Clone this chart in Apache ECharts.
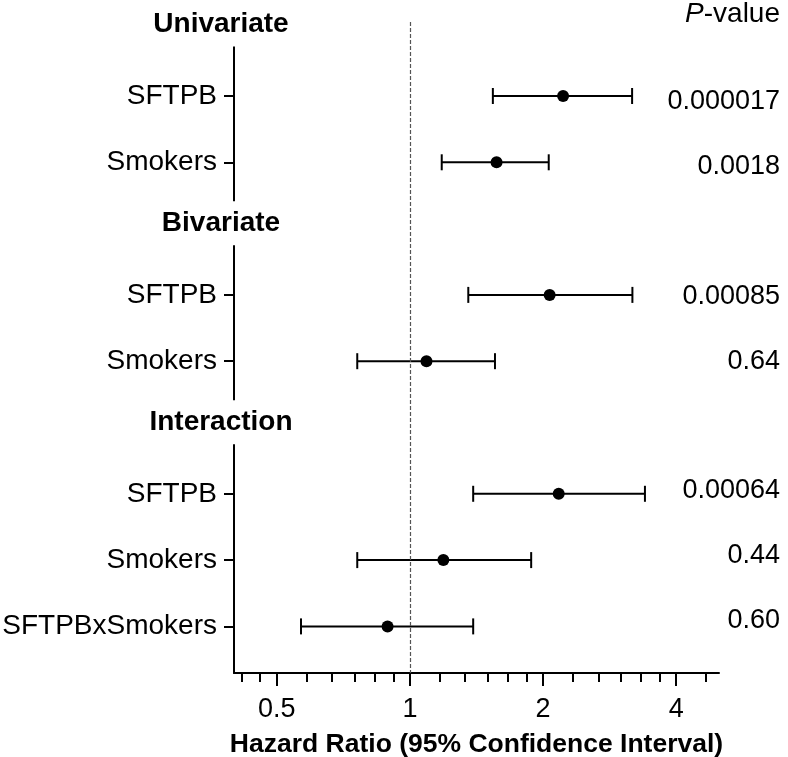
<!DOCTYPE html>
<html>
<head>
<meta charset="utf-8">
<script src="https://cdn.jsdelivr.net/npm/echarts@6/dist/echarts.min.js"></script>
<style>html,body{margin:0;padding:0;background:#fff}#chart{width:788px;height:757px}</style>
</head>
<body>
<div id="chart"></div>
<script>
// ---- data ----
const categories = ['Univariate','SFTPB','Smokers','Bivariate','SFTPB','Smokers','Interaction','SFTPB','Smokers','SFTPBxSmokers'];
const hazardRatio = [null, 2.22, 1.57, null, 2.07, 1.09, null, 2.17, 1.19, 0.89];
const ciLower     = [null, 1.54, 1.18, null, 1.355, 0.76, null, 1.39, 0.76, 0.567];
const ciUpper     = [null, 3.18, 2.06, null, 3.185, 1.557, null, 3.40, 1.88, 1.39];
const pValues     = ['', '0.000017', '0.0018', '', '0.00085', '0.64', '', '0.00064', '0.44', '0.60'];
const xTickValues = [0.5, 1, 2, 4];
const xMinorTickValues = [0.417, 0.458, 0.583, 0.667, 0.75, 0.833, 0.917, 1.167, 1.333, 1.5, 1.667, 1.833, 2.333, 2.667, 3, 3.333, 3.667, 4.667];
const referenceHR = 1;

// ---- derived ----
const itemRows = [], headerRows = [];
hazardRatio.forEach((v, i) => (v == null ? headerRows : itemRows).push(i));
const pointData = itemRows.map(i => [hazardRatio[i], i]);
const ciData = itemRows.map(i => [i, ciLower[i], ciUpper[i]]);

const FONT = "'Liberation Sans', Arial, Helvetica, sans-serif";
const chart = echarts.init(document.getElementById('chart'), null, {renderer: 'canvas'});

chart.setOption({
  animation: false,
  backgroundColor: '#fff',
  textStyle: {fontFamily: FONT, color: '#000'},
  title: {
    text: '{i|P}-value',
    right: 8, top: 0, padding: 0,
    textStyle: {
      fontFamily: FONT, fontSize: 28, fontWeight: 'normal', color: '#000',
      rich: {i: {fontStyle: 'italic', fontFamily: FONT, fontSize: 28, color: '#000'}}
    }
  },
  grid: {left: 234, right: 69, top: 22, bottom: 84, containLabel: false, outerBoundsMode: 'none'},
  xAxis: [{
    type: 'log', logBase: 2, min: 0.4, max: 5, position: 'bottom',
    axisLine: {show: true, onZero: false, lineStyle: {color: '#000', width: 2}},
    axisTick: {show: true, customValues: xTickValues, length: 13, lineStyle: {color: '#000', width: 2}},
    axisLabel: {customValues: xTickValues, fontFamily: FONT, fontSize: 27, color: '#000', margin: 23,
      formatter: v => String(v)},
    splitLine: {show: false},
    name: 'Hazard Ratio (95% Confidence Interval)',
    nameLocation: 'middle', nameGap: 58,
    nameTextStyle: {fontFamily: FONT, fontSize: 26.5, fontWeight: 'bold', color: '#000'}
  }, {
    type: 'log', logBase: 2, min: 0.4, max: 5, position: 'bottom', offset: 0,
    axisLine: {show: false, onZero: false},
    axisTick: {show: true, customValues: xMinorTickValues, length: 9, lineStyle: {color: '#000', width: 2}},
    axisLabel: {show: false},
    splitLine: {show: false}
  }],
  yAxis: [{
    type: 'value', inverse: true, min: -0.116, max: 9.703, position: 'left',
    axisLine: {show: true, onZero: false, lineStyle: {color: '#000', width: 2}},
    axisTick: {show: true, customValues: itemRows, length: 10, lineStyle: {color: '#000', width: 2}},
    axisLabel: {customValues: itemRows, formatter: v => categories[Math.round(v)],
      fontFamily: FONT, fontSize: 28, color: '#000', margin: 17},
    splitLine: {show: false}
  }, {
    type: 'value', inverse: true, min: -0.116, max: 9.703, position: 'left', offset: 0, z: 5,
    axisLine: {show: false, onZero: false}, axisTick: {show: false}, splitLine: {show: false},
    axisLabel: {customValues: headerRows.map(i => i - 0.08), formatter: v => categories[Math.round(v)],
      align: 'center', margin: 13, fontFamily: FONT, fontSize: 28, fontWeight: 'bold', color: '#000',
      backgroundColor: '#fff', padding: [8, 4, 8, 4]}
  }, {
    type: 'value', inverse: true, min: -0.23, max: 9.805, position: 'right', offset: 0,
    axisLine: {show: false, onZero: false}, axisTick: {show: false}, splitLine: {show: false},
    axisLabel: {customValues: itemRows, formatter: v => pValues[Math.round(v)],
      align: 'right', margin: 61, fontFamily: FONT, fontSize: 27, color: '#000'}
  }],
  series: [{
    type: 'custom',
    xAxisIndex: 0, yAxisIndex: 0,
    data: ciData,
    encode: {x: [1, 2], y: 0},
    renderItem: function (params, api) {
      const row = api.value(0);
      const p1 = api.coord([api.value(1), row]);
      const p2 = api.coord([api.value(2), row]);
      const cap = 8;
      const style = {stroke: '#000', lineWidth: 2};
      return {
        type: 'group',
        children: [
          {type: 'line', shape: {x1: p1[0], y1: p1[1], x2: p2[0], y2: p2[1]}, style: style},
          {type: 'line', shape: {x1: p1[0], y1: p1[1] - cap, x2: p1[0], y2: p1[1] + cap}, style: style},
          {type: 'line', shape: {x1: p2[0], y1: p2[1] - cap, x2: p2[0], y2: p2[1] + cap}, style: style}
        ]
      };
    },
    z: 3
  }, {
    type: 'scatter',
    xAxisIndex: 0, yAxisIndex: 0,
    data: pointData,
    symbol: 'circle', symbolSize: 12,
    itemStyle: {color: '#000', opacity: 1},
    z: 4,
    markLine: {
      silent: true, symbol: 'none', label: {show: false},
      lineStyle: {color: '#555', type: [4, 2], width: 1.2, opacity: 1},
      data: [{xAxis: referenceHR}]
    }
  }]
});
</script>
</body>
</html>
